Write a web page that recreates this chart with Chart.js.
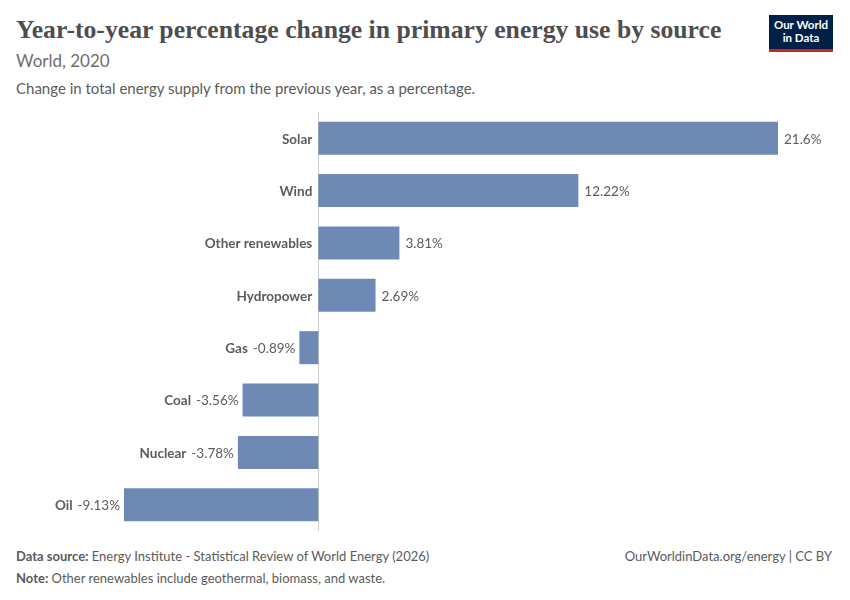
<!DOCTYPE html>
<html><head><meta charset="utf-8">
<script src="https://cdn.jsdelivr.net/npm/chart.js@4"></script>
<style>
body{margin:0;width:850px;height:600px;background:#fff;font-family:Lato,sans-serif;position:relative;overflow:hidden}
#t{position:absolute;left:16px;top:15px;font-family:"Liberation Serif",serif;font-size:25.7px;color:#4e4e4e;white-space:nowrap}
#s{position:absolute;left:16px;top:50px;font-size:17px;color:#6e6e6e}
#d{position:absolute;left:16px;top:79px;font-size:15px;color:#5b5b5b}
#logo{position:absolute;left:769px;top:15px;width:64px;height:37px;background:#002147;border-bottom:3px solid #ce261e;color:#fff;font-size:11.5px;font-weight:bold;text-align:center;line-height:13px;padding-top:3px;box-sizing:border-box}
.f{position:absolute;font-size:13px;color:#5b5b5b}
#c{position:absolute;left:0;top:110px}
</style></head><body>
<div id="t"><b>Year-to-year percentage change in primary energy use by source</b></div>
<div id="s">World, 2020</div>
<div id="d">Change in total energy supply from the previous year, as a percentage.</div>
<div id="logo">Our World<br>in Data</div>
<div class="f" style="left:16px;top:548px"><b>Data source:</b> Energy Institute - Statistical Review of World Energy (2026)</div>
<div class="f" style="right:18px;top:548px">OurWorldinData.org/energy | CC BY</div>
<div class="f" style="left:16px;top:570px"><b>Note:</b> Other renewables include geothermal, biomass, and waste.</div>
<div id="c" style="width:850px;height:425px"><canvas id="cv"></canvas></div>
<script>
const categories=["Solar","Wind","Other renewables","Hydropower","Gas","Coal","Nuclear","Oil"];
const values=[21.6,12.22,3.81,2.69,-0.89,-3.56,-3.78,-9.13];
const labels=["21.6%","12.22%","3.81%","2.69%","-0.89%","-3.56%","-3.78%","-9.13%"];
const lab={id:'lab',
beforeDatasetsDraw(ch){const c=ch.ctx,x=ch.scales.x.getPixelForValue(0),a=ch.chartArea;c.save();c.strokeStyle='#cfcfcf';c.lineWidth=1;c.beginPath();c.moveTo(Math.round(x)+0.5,a.top);c.lineTo(Math.round(x)+0.5,a.bottom);c.stroke();c.restore();},
afterDatasetsDraw(ch){const c=ch.ctx;c.save();c.textBaseline='middle';
ch.getDatasetMeta(0).data.forEach((b,i)=>{const v=values[i];
c.font='13.5px Lato';c.fillStyle='#5b5b5b';
if(v>=0){c.textAlign='left';c.fillText(labels[i],b.x+6,b.y+1);c.textAlign='right';c.font='bold 13.5px Lato';c.fillText(categories[i],b.base-6,b.y+1);}
else{c.textAlign='right';c.fillText(labels[i],b.x-4,b.y+1);const w=c.measureText(labels[i]).width;c.font='bold 13.5px Lato';c.fillText(categories[i],b.x-4-w-5,b.y+1);}
});c.restore();}};
new Chart(document.getElementById('cv'),{type:'bar',
data:{labels:categories,datasets:[{data:values,backgroundColor:'#6e89b3',barPercentage:0.63,categoryPercentage:1}]},
options:{indexAxis:'y',responsive:true,maintainAspectRatio:false,animation:false,
layout:{padding:{left:124,right:72,top:2,bottom:4}},
plugins:{legend:{display:false},tooltip:{enabled:false}},
scales:{x:{display:false,min:-9.13,max:21.6},y:{display:false}}},
plugins:[lab]});
</script></body></html>
